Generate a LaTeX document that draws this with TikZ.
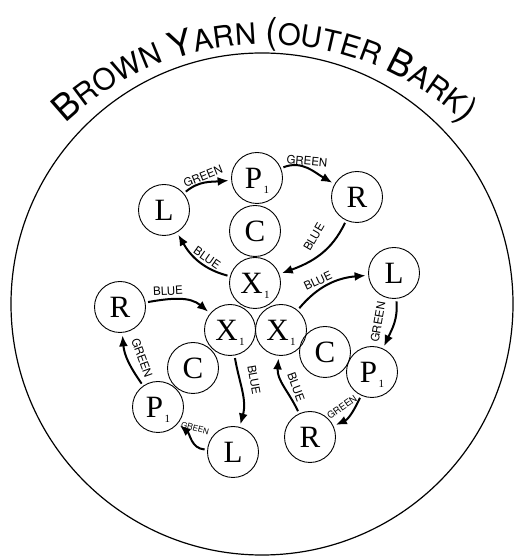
\documentclass[tikz,border=0pt]{standalone}
\usepackage{fontspec}
\setmainfont{Liberation Serif}
\newfontfamily\sansfont{TeX Gyre Heros}
\usetikzlibrary{arrows.meta,decorations.text}

% subscript one set low beside a letter
\newcommand{\withone}[1]{#1\hspace{1.5pt}\smash{\raisebox{-5pt}{\fontsize{11}{11}\selectfont 1}}}
% title sizes: full caps and small caps
\newcommand{\capT}{\sansfont\fontsize{36}{36}\selectfont}
\newcommand{\smT}{\sansfont\fontsize{29.5}{29.5}\selectfont}

\tikzset{
  unit/.style={circle, draw, line width=0.9pt, minimum size=51pt, inner sep=0pt,
    outer sep=3pt, font=\fontsize{31}{31}\selectfont},
  link/.style={line width=2pt, -{Latex[length=11pt,width=9pt]}},
  tag/.style={inner sep=0pt, font=\sansfont\fontsize{11.5}{11.5}\selectfont},
}

\begin{document}
\begin{tikzpicture}[x=1pt,y=1pt]
\useasboundingbox (0,0) rectangle (515,556);

% outer bark
\draw[line width=1.2pt] (262,252) circle[radius=251pt];

% curved title
\path[decorate, decoration={text along path, text align=center,
  text={|\capT|B|\smT|ROWN |\capT|Y|\smT|ARN |\capT|(|\smT|OUTER |\capT|B|\smT|ARK|\capT|)}}]
  (265,222) ++(140:290pt) arc[start angle=140, end angle=40, radius=290pt];

% top group
\node[unit] (L1)  at (164,346) {L};
\node[unit] (P1t) at (257,378) {\withone{P}};
\node[unit] (Ct)  at (255,325) {C};
\node[unit] (X1t) at (255,273) {\withone{X}};
\node[unit] (Rt)  at (357,359) {R};

% left group
\node[unit] (Rl)  at (120,249) {R};
\node[unit] (X1l) at (230,226) {\withone{X}};
\node[unit] (Cl)  at (193,188) {C};
\node[unit] (P1l) at (158,149) {\withone{P}};
\node[unit] (Lb)  at (233,104) {L};

% right group
\node[unit] (X1r) at (281,226) {\withone{X}};
\node[unit] (Cr)  at (325,204) {C};
\node[unit] (P1r) at (372,184) {\withone{P}};
\node[unit] (Lr)  at (394,283) {L};
\node[unit] (Rb)  at (310,119) {R};

% connectors
\draw[link] (L1)  to[out=40,in=185]  (P1t);
\draw[link] (P1t) to[out=22,in=150]  (Rt);
\draw[link] (Rt)  to[out=245,in=20]  (X1t);
\draw[link] (X1t) to[out=165,in=-60] (L1);

\draw[link] (Rl)  to[out=10,in=140]  (X1l);
\draw[link] (X1l) to[out=-80,in=75]  (Lb);
\draw[link] (Lb)  to[out=175,in=-40] (P1l);
\draw[link] (P1l) to[out=125,in=-85] (Rl);

\draw[link] (X1r) to[out=50,in=185]  (Lr);
\draw[link] (Lr)  to[out=-85,in=65]  (P1r);
\draw[link] (P1r) to[out=245,in=25]  (Rb);
\draw[link] (Rb)  to[out=115,in=-95] (X1r);

% connector labels
\node[tag, rotate=22]  (g1) at (203,380) {GREEN};
\node[tag, rotate=-5]  (g2) at (307,395) {GREEN};
\node[tag, rotate=60]  (b1) at (314,319) {BLUE};
\node[tag, rotate=-35] (b2) at (207,298) {BLUE};
\node[tag, rotate=3]   (b3) at (168,265) {BLUE};
\node[tag, rotate=-80] (b4) at (254,176) {BLUE};
\node[tag, rotate=-15, font=\sansfont\fontsize{8}{8}\selectfont] (g3) at (195,128) {GREEN};
\node[tag, rotate=-70] (g4) at (142,198) {GREEN};
\node[tag, rotate=25]  (b5) at (318,275) {BLUE};
\node[tag, rotate=80]  (g5) at (378,234) {GREEN};
\node[tag, rotate=35, font=\sansfont\fontsize{9.5}{9.5}\selectfont] (g6) at (342,149) {GREEN};
\node[tag, rotate=-70] (b6) at (296,169) {BLUE};
\end{tikzpicture}
\end{document}
